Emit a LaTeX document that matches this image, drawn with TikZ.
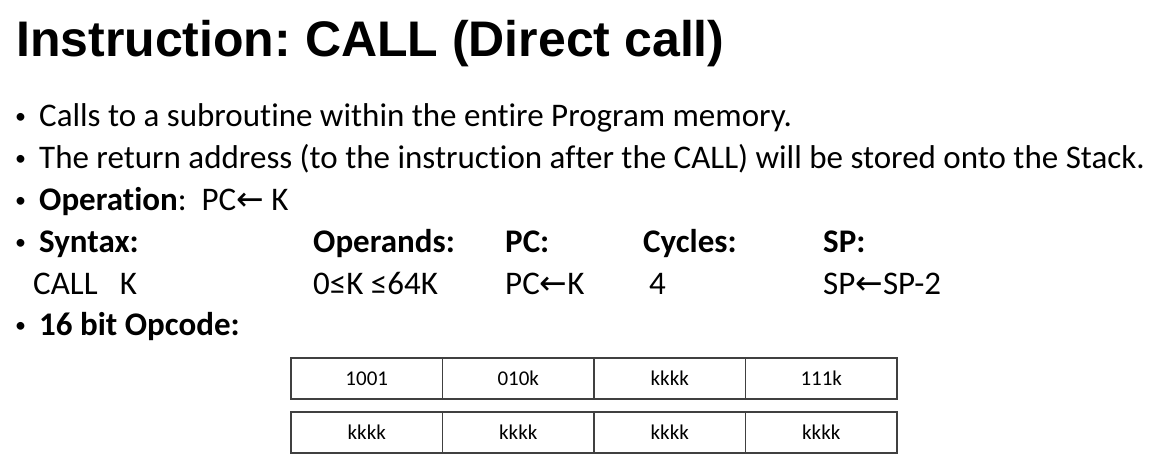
\documentclass[tikz,border=0pt]{standalone}
\usepackage{fontspec}
\setmainfont{Carlito}[Ligatures=NoCommon]
\newfontfamily\titlefont{Liberation Sans}
\newfontfamily\symfont{DejaVu Sans}
\newcommand{\larr}{{\symfont ←}}
\frenchspacing
\begin{document}
\begin{tikzpicture}[x=1pt,y=-1pt,
  titletxt/.style={anchor=base west,inner sep=0pt,font=\frenchspacing\titlefont\bfseries\fontsize{50}{60}\selectfont},
  body/.style={anchor=base west,inner sep=0pt,font=\frenchspacing\fontsize{33}{40}\selectfont},
  dot/.style={anchor=base west,inner sep=0pt,font=\fontsize{22}{26}\selectfont},
  cell/.style={draw=black!75,line width=1.3pt,minimum width=151.5pt,minimum height=41pt,inner sep=0pt,font=\fontsize{21}{25}\selectfont}]
\useasboundingbox (0,0) rectangle (1171,458);
\node[titletxt] (title) at (16,56) {Instruction: CALL (Direct call)};
% bullets
\node[dot] (d1) at (15,123) {•};
\node[dot] (d2) at (15,165) {•};
\node[dot] (d3) at (15,207) {•};
\node[dot] (d4) at (15,249) {•};
\node[dot] (d6) at (15,332) {•};
\node[body] (t1) at (39,126) {Calls to a subroutine within the entire Program memory.};
\node[body] (t2) at (39,168) {The return address (to the instruction after the CALL) will be stored onto the Stack.};
\node[body] (t3) at (39,210) {\textbf{Operation}:\ \ PC\larr\ K};
\node[body] (h1) at (39,252) {\textbf{Syntax:}};
\node[body] (h2) at (313,252) {\textbf{Operands:}};
\node[body] (h3) at (505,252) {\textbf{PC:}};
\node[body] (h4) at (643,252) {\textbf{Cycles:}};
\node[body] (h5) at (823,252) {\textbf{SP:}};
\node[body] (v1) at (33,294) {CALL\ \ \ K};
\node[body] (v2) at (313,294) {0≤K ≤64K};
\node[body] (v3) at (505,294) {PC\larr K};
\node[body] (v4) at (649,294) {4};
\node[body] (v5) at (823,294) {SP\larr SP-2};
\node[body] (t6) at (39,335) {\textbf{16 bit Opcode:}};
% opcode table
\node[cell] (a1) at (366.75,378.5) {1001};
\node[cell] (a2) at (518.25,378.5) {010k};
\node[cell] (a3) at (669.75,378.5) {kkkk};
\node[cell] (a4) at (821.25,378.5) {111k};
\node[cell] (b1) at (366.75,432.5) {kkkk};
\node[cell] (b2) at (518.25,432.5) {kkkk};
\node[cell] (b3) at (669.75,432.5) {kkkk};
\node[cell] (b4) at (821.25,432.5) {kkkk};
\end{tikzpicture}
\end{document}
